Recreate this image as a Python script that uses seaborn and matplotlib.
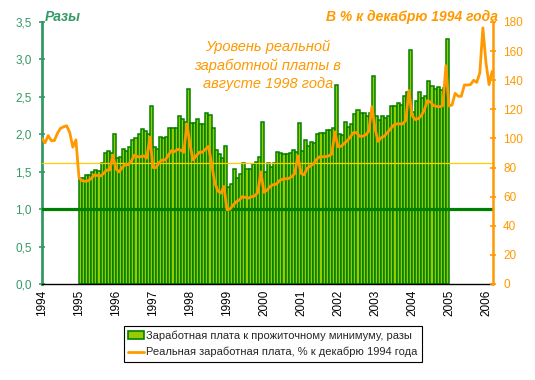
import matplotlib.pyplot as plt
import numpy as np
import pandas as pd
import seaborn as sns
from matplotlib.lines import Line2D
from matplotlib.patches import Patch
from matplotlib.ticker import FuncFormatter

# Заработная плата к прожиточному минимуму, разы (помесячно)
ratio_1995 = [1.42, 1.41, 1.46, 1.46, 1.49, 1.52, 1.51, 1.61, 1.75, 1.78, 1.75, 2.00]
ratio_1996 = [1.68, 1.70, 1.81, 1.78, 1.83, 1.93, 1.95, 2.00, 2.07, 2.05, 2.00, 2.38]
ratio_1997 = [1.83, 1.80, 1.96, 1.95, 1.96, 2.08, 2.08, 2.08, 2.24, 2.21, 2.17, 2.60]
ratio_1998 = [2.15, 2.15, 2.20, 2.14, 2.14, 2.28, 2.26, 2.08, 1.79, 1.74, 1.68, 1.84]
ratio_1999 = [1.30, 1.33, 1.53, 1.41, 1.47, 1.61, 1.54, 1.53, 1.60, 1.63, 1.70, 2.17]
ratio_2000 = [1.50, 1.61, 1.56, 1.61, 1.77, 1.75, 1.74, 1.74, 1.75, 1.79, 1.77, 2.15]
ratio_2001 = [1.78, 1.92, 1.85, 1.90, 1.88, 2.00, 2.02, 2.02, 2.06, 2.06, 2.09, 2.66]
ratio_2002 = [2.00, 1.99, 2.16, 2.10, 2.14, 2.27, 2.33, 2.28, 2.28, 2.24, 2.29, 2.78]
ratio_2003 = [2.24, 2.19, 2.24, 2.22, 2.24, 2.38, 2.38, 2.42, 2.39, 2.51, 2.57, 3.13]
ratio_2004 = [2.30, 2.45, 2.56, 2.49, 2.51, 2.71, 2.64, 2.61, 2.63, 2.59, 2.62, 3.27]

# Реальная заработная плата, % к декабрю 1994 года (помесячно)
wage_1994 = [100, 97, 102, 98.5, 98.5, 103.5, 107, 108, 108.7, 104, 94, 99]
wage_1995 = [73, 71, 70.5, 71, 72.5, 75, 74.5, 74.2, 76, 78.3, 78.3, 88.6]
wage_1996 = [79, 77, 80, 82, 82, 84.5, 88.6, 87.4, 87.4, 88, 86.5, 101]
wage_1997 = [80, 80, 83.5, 85.2, 85.2, 88.6, 91.6, 91, 92.5, 92, 90.5, 110]
wage_1998 = [96, 85.2, 88, 90.5, 90.5, 92.5, 94.5, 83, 70, 64, 62.5, 67]
wage_1999 = [51, 51.5, 54.3, 56.5, 57.7, 60, 59.5, 59, 60, 60.5, 63, 77]
wage_2000 = [63, 64.5, 67, 68.3, 68.5, 71, 72, 72.3, 72.5, 73.7, 76, 88]
wage_2001 = [76, 75, 79.5, 81, 82.5, 85.5, 87.4, 87.4, 87.5, 88, 89.3, 104.5]
wage_2002 = [94.3, 94.6, 96.5, 98.4, 101, 104, 104, 101.5, 101.5, 102.5, 105, 121.8]
wage_2003 = [107, 98, 100.5, 101.5, 104, 106.5, 109, 110, 110, 110, 112.5, 133]
wage_2004 = [116, 113, 113.5, 115.6, 119.5, 126, 125, 122.6, 122, 121.8, 122.5, 150]
wage_2005 = [122.3, 123, 131, 129, 129, 136.7, 136.7, 137, 140, 138.5, 145, 176]
wage_2006 = [152, 137, 146]

years = list(range(1994, 2007))
subsistence_level = 1.0

bar_start, line_start = 1995, 1994
ratio = (ratio_1995 + ratio_1996 + ratio_1997 + ratio_1998 + ratio_1999
         + ratio_2000 + ratio_2001 + ratio_2002 + ratio_2003 + ratio_2004)
wage = (wage_1994 + wage_1995 + wage_1996 + wage_1997 + wage_1998 + wage_1999 + wage_2000
        + wage_2001 + wage_2002 + wage_2003 + wage_2004 + wage_2005 + wage_2006)
aug_1998_level = wage_1998[7]

bar_df = pd.DataFrame({"t": [bar_start + (i + 0.5) / 12 for i in range(len(ratio))], "ratio": ratio})
line_df = pd.DataFrame({"t": [line_start + i / 12 for i in range(len(wage))], "wage": wage})

green, light_green, sea = "#008000", "#99CC00", "#339966"
orange, gold = "#FF9900", "#FFCC00"

sns.set_style("white")
plt.rcParams["font.family"] = ["Liberation Sans", "DejaVu Sans"]

fig = plt.figure(figsize=(5.35, 3.8), dpi=100)
ax = fig.add_axes([42 / 535, 96 / 380, 451 / 535, 262 / 380])

sns.barplot(data=bar_df, x="t", y="ratio", native_scale=True, width=1.0, color=light_green,
            edgecolor=green, linewidth=1.1, saturation=1, errorbar=None, ax=ax)
ax.axhline(subsistence_level, color=green, lw=2.3, zorder=3)

ax2 = ax.twinx()
ax2.axhline(aug_1998_level, color=gold, lw=0.9, zorder=1)
sns.lineplot(data=line_df, x="t", y="wage", color=orange, lw=2.0, ax=ax2, zorder=3)

ax.set_xlim(1994, 2006.19)
ax.set_ylim(0, 3.5)
ax2.set_ylim(0, 180)

ax.set_xticks(years)
ax.set_xticklabels([str(y) for y in years])
ax.set_yticks(np.arange(0, 3.51, 0.5))
ax.yaxis.set_major_formatter(FuncFormatter(lambda v, _: f"{v:.1f}".replace(".", ",")))
ax2.set_yticks(range(0, 181, 20))

ax.tick_params(axis="x", length=0, labelsize=8.5, labelrotation=90, pad=4, colors="black")
ax.tick_params(axis="y", direction="inout", length=4.5, width=1.2, colors=sea, labelsize=8.5, pad=5)
ax2.tick_params(axis="y", direction="inout", length=4.5, width=1.2, colors=orange, labelsize=8.5, pad=5)

for a in (ax, ax2):
    a.set_xlabel("")
    a.set_ylabel("")
    a.grid(False)
    for s in a.spines.values():
        s.set_visible(False)
ax.spines["left"].set_visible(True)
ax.spines["left"].set_color(sea)
ax.spines["left"].set_linewidth(2)
ax.spines["bottom"].set_visible(True)
ax.spines["bottom"].set_color("black")
ax.spines["bottom"].set_linewidth(1)
ax2.spines["right"].set_visible(True)
ax2.spines["right"].set_color(orange)
ax2.spines["right"].set_linewidth(1.8)

fig.text(45 / 535, 1 - 20.7 / 380, "Разы", color=sea, fontsize=10, fontweight="bold",
         fontstyle="italic", ha="left", va="baseline")
fig.text(498 / 535, 1 - 20.7 / 380, "В % к декабрю 1994 года", color=orange, fontsize=10,
         fontweight="bold", fontstyle="italic", ha="right", va="baseline")
fig.text(268 / 535, 1 - 40 / 380, "Уровень реальной\nзаработной платы в\nавгусте 1998 года",
         color=orange, fontsize=10.5, fontstyle="italic", ha="center", va="top", linespacing=1.35)

handles = [
    Patch(facecolor=light_green, edgecolor=green, linewidth=1.2),
    Line2D([0], [0], color=orange, lw=2),
]
labels = [
    "Заработная плата к прожиточному минимуму, разы",
    "Реальная заработная плата, % к декабрю 1994 года",
]
leg = fig.legend(handles, labels, loc="upper left", bbox_to_anchor=(124 / 535, 1 - 326 / 380),
                 frameon=True, fancybox=False, edgecolor="black", framealpha=1, fontsize=8,
                 handlelength=1.4, handletextpad=0.2, labelspacing=0.55, borderpad=0.4,
                 borderaxespad=0)
leg.get_frame().set_linewidth(0.8)

fig.savefig("out.png", dpi=100)
